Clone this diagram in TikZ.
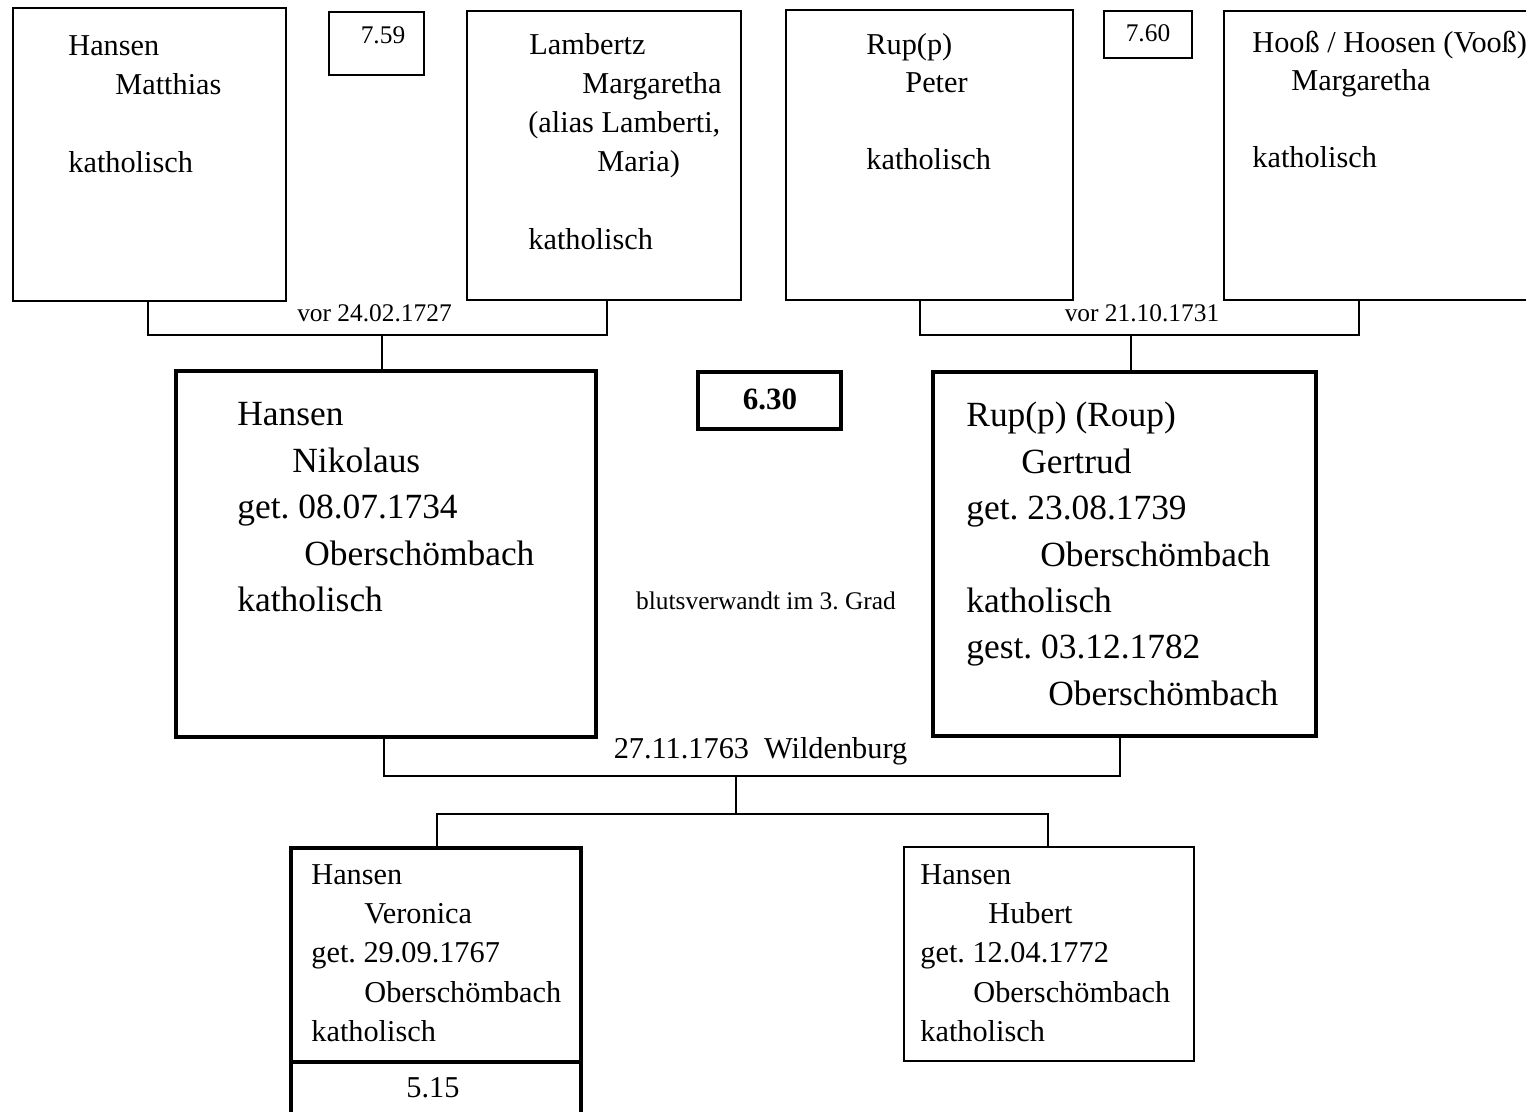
\documentclass[tikz,border=0pt]{standalone}
\usepackage{fontspec}
\setmainfont{Liberation Serif}
\frenchspacing
\usetikzlibrary{fit}
\tikzset{
  thinbox/.style={draw, line width=1pt, inner sep=0pt},
  thickbox/.style={draw, line width=2pt, inner sep=0pt},
  link/.style={line width=1pt},
  sm/.style={anchor=base west, inner sep=0pt, font=\fontsize{15.15}{18}\selectfont},
  lg/.style={anchor=base west, inner sep=0pt, font=\fontsize{17.7}{21}\selectfont},
  lab/.style={anchor=base, inner sep=0pt, font=\fontsize{12.7}{15}\selectfont},
  mid/.style={anchor=base, inner sep=0pt, font=\fontsize{15.15}{18}\selectfont},
}
\newcommand\putline[5]{\node[#1] (#2) at (#3,#4) {#5};}
\begin{document}
\begin{tikzpicture}[x=0.5pt, y=-0.5pt]
\useasboundingbox (0,0) rectangle (1526,1112);
\clip (0,0) rectangle (1526,1112);

% ---- grandparents, left pair ----
\node[thinbox, fit={(13,8) (286,301)}] (ma) {};
\putline{sm}{ma1}{68}{56}{Hansen}
\putline{sm}{ma2}{115}{95}{Matthias}
\putline{sm}{ma3}{68}{173}{katholisch}

\node[thinbox, fit={(329,12) (424,75)}] (n759) {};
\putline{lab}{n759t}{383}{44}{7.59}

\node[thinbox, fit={(467,11) (741,300)}] (la) {};
\putline{sm}{la1}{529}{55}{Lambertz}
\putline{sm}{la2}{582}{94}{Margaretha}
\putline{sm}{la3}{528}{133}{(alias Lamberti,}
\putline{sm}{la4}{597}{172}{Maria)}
\putline{sm}{la5}{528}{250}{katholisch}

% ---- grandparents, right pair ----
\node[thinbox, fit={(786,10) (1073,300)}] (rp) {};
\putline{sm}{rp1}{866}{55}{Rup(p)}
\putline{sm}{rp2}{905}{93}{Peter}
\putline{sm}{rp3}{866}{170}{katholisch}

\node[thinbox, fit={(1104,11) (1192,58)}] (n760) {};
\putline{lab}{n760t}{1148}{42}{7.60}

\node[thinbox, fit={(1224,11) (1580,300)}] (ho) {};
\putline{sm}{ho1}{1252}{53}{Hooß / Hoosen (Vooß)}
\putline{sm}{ho2}{1291}{91}{Margaretha}
\putline{sm}{ho3}{1252}{168}{katholisch}

% ---- parents ----
\node[thickbox, fit={(176,371) (596,737)}] (nk) {};
\putline{lg}{nk1}{237}{425.7}{Hansen}
\putline{lg}{nk2}{292}{472.2}{Nikolaus}
\putline{lg}{nk3}{237}{518.7}{get. 08.07.1734}
\putline{lg}{nk4}{304}{565.2}{Oberschömbach}
\putline{lg}{nk5}{237}{611.7}{katholisch}

\node[thickbox, fit={(698,372) (841,429)}] (n630) {};
\node[anchor=base, inner sep=0pt, font=\fontsize{15.5}{18}\selectfont\bfseries] (n630t) at (770,410) {6.30};

\node[thickbox, fit={(933,372) (1316,736)}] (gt) {};
\putline{lg}{gt1}{966}{427}{Rup(p) (Roup)}
\putline{lg}{gt2}{1021}{473.3}{Gertrud}
\putline{lg}{gt3}{966}{519.6}{get. 23.08.1739}
\putline{lg}{gt4}{1040}{566}{Oberschömbach}
\putline{lg}{gt5}{966}{612.3}{katholisch}
\putline{lg}{gt6}{966}{658.6}{gest. 03.12.1782}
\putline{lg}{gt7}{1048}{705}{Oberschömbach}

\putline{lab}{blut}{766}{609.3}{blutsverwandt im 3. Grad}

% ---- children ----
\node[thickbox, fit={(291,848) (581,1062)}] (vr) {};
\putline{sm}{vr1}{311}{884}{Hansen}
\putline{sm}{vr2}{364}{923.3}{Veronica}
\putline{sm}{vr3}{311}{962.6}{get. 29.09.1767}
\putline{sm}{vr4}{364}{1002}{Oberschömbach}
\putline{sm}{vr5}{311}{1041}{katholisch}

\node[thickbox, fit={(291,1062) (581,1140)}] (n515) {};
\putline{mid}{n515t}{433}{1097.7}{5.15}

\node[thinbox, fit={(904,847) (1194,1061)}] (hb) {};
\putline{sm}{hb1}{920}{884}{Hansen}
\putline{sm}{hb2}{988}{923.3}{Hubert}
\putline{sm}{hb3}{920}{962.6}{get. 12.04.1772}
\putline{sm}{hb4}{973}{1002}{Oberschömbach}
\putline{sm}{hb5}{920}{1041}{katholisch}

% ---- marriage lines ----
\coordinate (j1) at (382,335);
\draw[link] (148,0 |- ma.south) |- (j1) -| (607,0 |- la.south);
\draw[link] (j1) -- (j1 |- nk.north);
\putline{lab}{m1}{374.5}{322}{vor 24.02.1727}

\coordinate (j2) at (1131,335);
\draw[link] (920,0 |- rp.south) |- (j2) -| (1359,0 |- ho.south);
\draw[link] (j2) -- (j2 |- gt.north);
\putline{lab}{m2}{1142}{322}{vor 21.10.1731}

\coordinate (j3) at (736,776);
\coordinate (j4) at (736,814);
\draw[link] (384,0 |- nk.south) |- (j3) -| (1120,0 |- gt.south);
\draw[link] (j3) -- (j4);
\draw[link] (437,0 |- vr.north) |- (j4) -| (1048,0 |- hb.north);
\putline{mid}{m3}{760.5}{758}{27.11.1763~~Wildenburg}
\end{tikzpicture}
\end{document}
